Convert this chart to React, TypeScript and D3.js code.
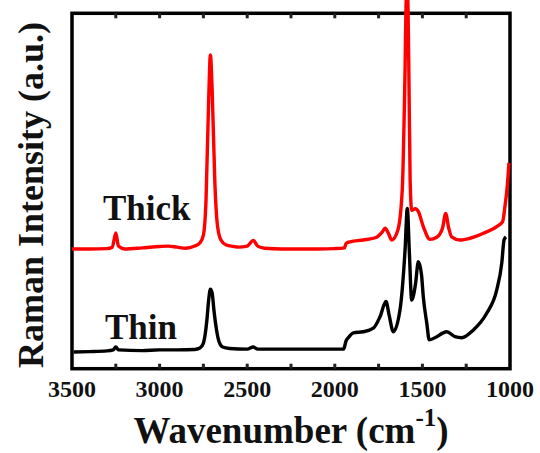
import React from "react";
import * as d3 from "d3";

// Wavenumber (cm^-1) and intensity (a.u.)
const thickWave = [3500, 3400, 3300, 3270, 3250, 3235, 3200, 3100, 3000, 2950, 2900, 2850, 2800, 2770, 2750, 2735, 2720, 2710, 2700, 2685, 2670, 2650, 2620, 2580, 2550, 2500, 2465, 2440, 2400, 2300, 2200, 2100, 2000, 1945, 1935, 1913, 1837, 1761, 1730, 1713, 1695, 1675, 1640, 1615, 1600, 1592, 1585, 1578, 1570, 1561, 1540, 1523, 1495, 1457, 1418, 1385, 1367, 1350, 1333, 1285, 1228, 1152, 1076, 1042, 1029, 1015, 1006];
const thickValue = [33.7, 33.7, 33.8, 34.2, 38.2, 34.5, 33.7, 34.0, 34.4, 34.5, 34.2, 33.9, 34.5, 35.4, 37.6, 47.5, 75.6, 88.3, 78.4, 53, 40.4, 36.2, 34.8, 34.4, 34.2, 34.5, 36.1, 34.5, 33.9, 33.7, 33.7, 33.7, 33.8, 34, 35.3, 35.7, 36.2, 37.0, 38.4, 39.5, 38.2, 36.2, 39, 50.3, 81.2, 104, 106, 86.8, 53, 44.6, 45, 44.2, 40, 36.4, 37, 39.6, 43.7, 39.6, 37.1, 36.2, 36.7, 38.1, 40, 41.4, 45.6, 51.7, 57.9];

const thinWave = [3490, 3400, 3300, 3265, 3250, 3235, 3100, 3000, 2900, 2800, 2770, 2750, 2730, 2720, 2710, 2700, 2690, 2675, 2660, 2640, 2600, 2500, 2465, 2440, 2300, 2100, 1950, 1936, 1920, 1894, 1837, 1780, 1742, 1708, 1690, 1666, 1628, 1599, 1586, 1575, 1561, 1540, 1523, 1505, 1495, 1475, 1461, 1418, 1385, 1361, 1314, 1276, 1209, 1133, 1076, 1047, 1034, 1023];
const thinValue = [4.7, 4.8, 5.0, 5.3, 6.1, 5.3, 5.1, 5.3, 5.3, 5.4, 5.8, 7.2, 13.7, 19.3, 22.4, 21.3, 16.5, 10.9, 7.5, 6.1, 5.7, 5.5, 6.1, 5.5, 5.5, 5.5, 5.5, 7.8, 8.9, 10.1, 10.4, 11.4, 14.6, 18.9, 15.1, 10.4, 16.5, 33.4, 45.1, 33.4, 19.3, 23.6, 30.1, 26.4, 20.3, 12.8, 8.1, 9, 10, 10.4, 9, 8.7, 10.9, 15.6, 22.1, 29.7, 36.2, 37.1];

const tickLabels = [3500, 3000, 2500, 2000, 1500, 1000];
const minorTicks = [3250, 3000, 2750, 2500, 2250, 2000, 1750, 1500, 1250];

const W = 540;
const H = 453;
const left = 72;
const right = 510;
const top = 13.3;
const bottom = 368.7;

const FONT = '"Liberation Serif", "Times New Roman", Times, serif';

export default function App() {
  const x = d3.scaleLinear().domain([3500, 1000]).range([left, right]);
  const y = d3.scaleLinear().domain([0, 100]).range([bottom, top]);
  const line = d3
    .line<[number, number]>()
    .x((d) => x(d[0]))
    .y((d) => y(d[1]))
    .curve(d3.curveMonotoneX);

  const thick = thickWave.map((w, i) => [w, thickValue[i]] as [number, number]);
  const thin = thinWave.map((w, i) => [w, thinValue[i]] as [number, number]);
  const ts = { fontFamily: FONT, fontWeight: 700 as const };

  return (
    <svg
      width={W}
      height={H}
      style={{ position: "absolute", left: 0, top: 0, background: "#fff" }}
    >
      <rect x={0} y={0} width={W} height={H} fill="#fff" />
      <rect
        x={left}
        y={top}
        width={right - left}
        height={bottom - top}
        fill="none"
        stroke="#000"
        strokeWidth={3.5}
      />
      {minorTicks.map((t) => (
        <g key={t}>
          <line x1={x(t)} x2={x(t)} y1={top} y2={top + 5} stroke="#222" strokeWidth={3} />
          <line x1={x(t)} x2={x(t)} y1={bottom} y2={bottom - 5} stroke="#222" strokeWidth={3} />
        </g>
      ))}
      <path d={line(thin) || ""} fill="none" stroke="#000" strokeWidth={3.4} strokeLinejoin="round" />
      <path d={line(thick) || ""} fill="none" stroke="#ff0000" strokeWidth={3.4} strokeLinejoin="round" />
      {tickLabels.map((t) => (
        <text key={t} x={x(t)} y={397} textAnchor="middle" fontSize={24} fill="#111" style={ts}>
          {t}
        </text>
      ))}
      <text x={103} y={220} fontSize={35} fill="#111" style={ts}>Thick</text>
      <text x={105} y={339} fontSize={35} fill="#111" style={ts}>Thin</text>
      <text x={291} y={443} textAnchor="middle" fontSize={37} fill="#111" style={ts}>
        Wavenumber (cm
        <tspan fontSize={25} dy={-17}>-1</tspan>
        <tspan dy={17}>)</tspan>
      </text>
      <text
        transform={`translate(43, 195) rotate(-90)`}
        textAnchor="middle"
        fontSize={36}
        fill="#111"
        style={ts}
      >
        Raman Intensity (a.u.)
      </text>
    </svg>
  );
}
